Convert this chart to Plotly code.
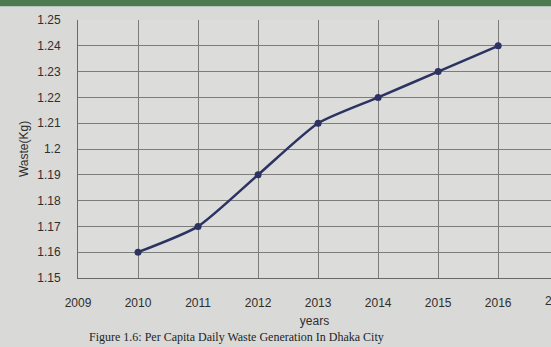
import plotly.graph_objects as go

# Per-capita daily waste generation by year
years = [2010, 2011, 2012, 2013, 2014, 2015, 2016]
waste_kg = [1.16, 1.17, 1.19, 1.21, 1.22, 1.23, 1.24]

x_ticks = [2009, 2010, 2011, 2012, 2013, 2014, 2015, 2016]
y_ticks = [1.15, 1.16, 1.17, 1.18, 1.19, 1.2, 1.21, 1.22, 1.23, 1.24, 1.25]
y_tick_text = ["1.15", "1.16", "1.17", "1.18", "1.19", "1.2", "1.21",
               "1.22", "1.23", "1.24", "1.25"]

caption = "Figure 1.6: Per Capita Daily Waste Generation In Dhaka City"

x_min, x_max = 2009, 2016.88

fig = go.Figure()
fig.add_trace(go.Scatter(
    x=years, y=waste_kg,
    mode="lines+markers",
    line=dict(color="#2c3262", width=2.5, shape="spline", smoothing=0.6),
    marker=dict(color="#2c3262", size=7, symbol="circle"),
    showlegend=False,
))

font_family = "Liberation Sans, Arial, sans-serif"

fig.update_layout(
    width=551, height=347,
    margin=dict(l=78, r=0, t=20, b=69),
    paper_bgcolor="#d9d9d7",
    plot_bgcolor="#dcdcda",
    font=dict(family=font_family, size=12, color="#2e2e2e"),
    xaxis=dict(
        range=[x_min, x_max],
        tickvals=x_ticks,
        ticktext=[str(v) for v in x_ticks],
        showgrid=True, gridcolor="#7c7c7a", gridwidth=1,
        zeroline=False,
        showline=True, linecolor="#6a6a68", linewidth=1,
        ticks="", ticklabelstandoff=14,
        tickfont=dict(size=12, color="#2e2e2e"),
        title=dict(text="years", font=dict(size=12, color="#2e2e2e"), standoff=7),
    ),
    yaxis=dict(
        range=[1.15, 1.25],
        tickvals=y_ticks,
        ticktext=y_tick_text,
        showgrid=True, gridcolor="#7c7c7a", gridwidth=1,
        zeroline=False,
        showline=True, linecolor="#6a6a68", linewidth=1,
        ticks="", ticklabelstandoff=14,
        tickfont=dict(size=12, color="#2e2e2e"),
        title=dict(text="Waste(Kg)", font=dict(size=12, color="#2e2e2e"), standoff=6),
    ),
    shapes=[
        dict(type="rect", xref="paper", yref="paper",
             x0=-0.2, x1=1.0, y0=1.0535, y1=1.08,
             fillcolor="#e6e9e4", line=dict(width=0), layer="below"),
        dict(type="rect", xref="paper", yref="paper",
             x0=-0.2, x1=1.0, y0=1.0535, y1=1.1,
             fillcolor="#4c7b50", line=dict(width=0), layer="below"),
    ],
    annotations=[
        # last year label sits just past the right edge of the plot area
        dict(x=(2017 - x_min) / (x_max - x_min), y=0, xref="paper", yref="paper",
             text="2017", showarrow=False, xanchor="center", yanchor="top",
             yshift=-14, font=dict(size=12, color="#2e2e2e")),
        dict(x=0.02, y=-0.2636, xref="paper", yref="paper", text=caption,
             showarrow=False, xanchor="left", yanchor="bottom",
             font=dict(family="Liberation Serif, serif", size=12, color="#1e1e1e")),
    ],
)

fig.write_html("out.html")
